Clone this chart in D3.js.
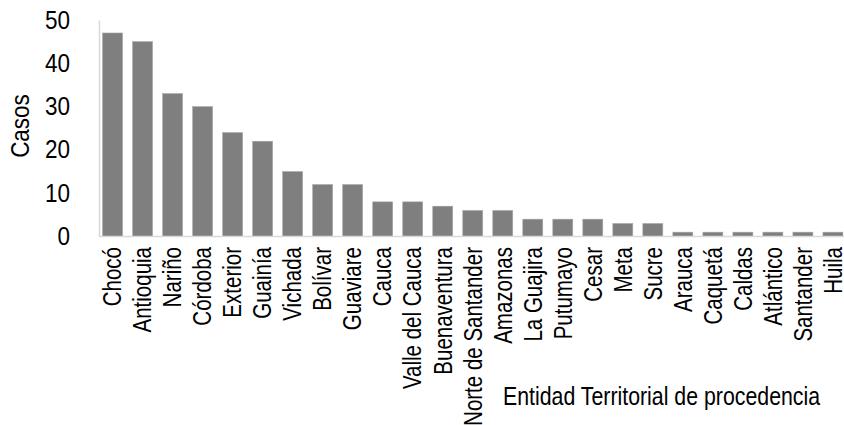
<!DOCTYPE html>
<html>
<head>
<meta charset="utf-8">
<script src="https://cdn.jsdelivr.net/npm/d3@7"></script>
<style>
  html, body { margin: 0; padding: 0; background: #fff; }
  svg { display: block; }
  text { font-family: "Liberation Sans", Arial, sans-serif; fill: #000; }
</style>
</head>
<body>
<svg id="chart" width="844" height="425"></svg>
<script>
const categories = ["Chocó","Antioquia","Nariño","Córdoba","Exterior","Guainía","Vichada","Bolívar","Guaviare","Cauca","Valle del Cauca","Buenaventura","Norte de Santander","Amazonas","La Guajira","Putumayo","Cesar","Meta","Sucre","Arauca","Caquetá","Caldas","Atlántico","Santander","Huila"];
const casos = [47,45,33,30,24,22,15,12,12,8,8,7,6,6,4,4,4,3,3,1,1,1,1,1,1];
const yTicks = [0,10,20,30,40,50];
const yTitle = "Casos";
const xTitle = "Entidad Territorial de procedencia";

const K = 0.82; // horizontal condensing of the narrow font
const svg = d3.select("#chart");
const mLeft = 99, mRight = 846.5, mTop = 20, mBottom = 236.5;

const x = d3.scaleBand().domain(categories).range([mLeft, mRight]).paddingInner(0.335).paddingOuter(0.12);
const y = d3.scaleLinear().domain([0, 50]).range([mBottom, mTop]);

// bars
svg.append("g").selectAll("rect").data(categories).join("rect")
  .attr("x", d => x(d))
  .attr("width", x.bandwidth())
  .attr("y", (d, i) => y(casos[i]))
  .attr("height", (d, i) => y(0) - y(casos[i]))
  .attr("fill", "#7f7f7f")
  .attr("stroke", "#a6a6a6")
  .attr("stroke-width", 0.6);

// y axis
const yAxis = d3.axisLeft(y).tickValues(yTicks).tickSize(0).tickPadding(0);
const yg = svg.append("g").attr("transform", `translate(${mLeft},0)`).call(yAxis);
yg.select(".domain").attr("stroke", "#d9d9d9").attr("stroke-width", 1.5);
yg.selectAll("text")
  .attr("font-size", 25)
  .attr("font-family", null)
  .attr("x", -29 / 0.9)
  .attr("transform", "scale(0.9,1)");

// x axis
const xAxis = d3.axisBottom(x).tickSize(0).tickPadding(0);
const xg = svg.append("g").attr("transform", `translate(0,${mBottom})`).call(xAxis);
xg.select(".domain").attr("stroke", "#d9d9d9").attr("stroke-width", 1.5)
  .attr("d", `M${mLeft},0H844`);
xg.selectAll("text")
  .attr("font-size", 25)
  .attr("font-family", null)
  .attr("text-anchor", "end")
  .attr("transform", `rotate(-90) scale(${K},1)`)
  .attr("x", -10.5 / K)
  .attr("y", 0)
  .attr("dy", "0.35em");

// axis titles
svg.append("text")
  .attr("transform", `translate(29,126) rotate(-90) scale(0.9,1)`)
  .attr("text-anchor", "middle")
  .attr("font-size", 25)
  .text(yTitle);

svg.append("text")
  .attr("transform", `translate(503,405) scale(${K},1)`)
  .attr("font-size", 26)
  .text(xTitle);
</script>
</body>
</html>
